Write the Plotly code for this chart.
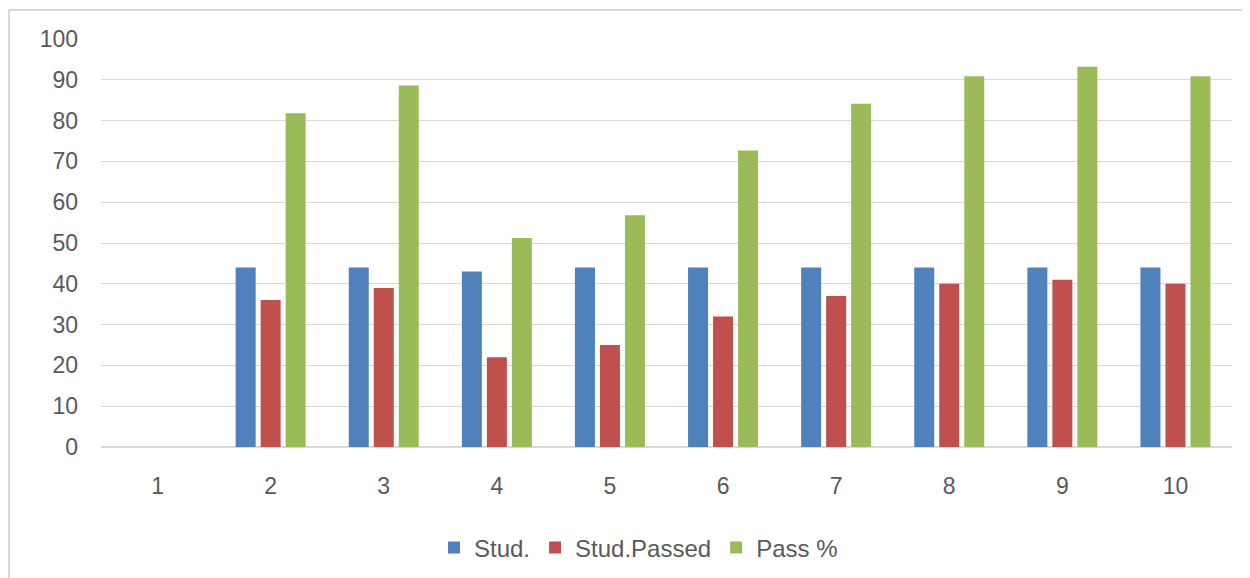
import plotly.graph_objects as go

categories = ["1", "2", "3", "4", "5", "6", "7", "8", "9", "10"]
stud = [None, 44, 44, 43, 44, 44, 44, 44, 44, 44]
stud_passed = [None, 36, 39, 22, 25, 32, 37, 40, 41, 40]
pass_pct = [None, 81.8, 88.6, 51.2, 56.8, 72.7, 84.1, 90.9, 93.2, 90.9]
y_ticks = [0, 10, 20, 30, 40, 50, 60, 70, 80, 90, 100]

OFF = 8  # page body margin
W, H = 1242, 570
L, R, T, B = 101 - OFF, 18, 39 - OFF, 131
pw = W - L - R
ph = H - T - B

def px_to_paper_x(px):
    return (px - OFF - L) / pw

def px_to_paper_y(py):
    return (H - B - (py - OFF)) / ph

fig = go.Figure()
fig.add_trace(go.Bar(x=categories, y=stud, name="Stud.", marker=dict(color="#4f81bd", line=dict(width=0))))
fig.add_trace(go.Bar(x=categories, y=stud_passed, name="Stud.Passed", marker=dict(color="#c0504d", line=dict(width=0))))
fig.add_trace(go.Bar(x=categories, y=pass_pct, name="Pass %", marker=dict(color="#9bbb59", line=dict(width=0))))

fig.update_layout(
    width=W, height=H,
    margin=dict(l=L, r=R, t=T, b=B, autoexpand=False),
    paper_bgcolor="white", plot_bgcolor="white",
    barmode="group", bargap=0.337, bargroupgap=0.2,
    font=dict(family="Liberation Sans, Arial, sans-serif", color="#595959", size=23),
    legend=dict(orientation="h", x=0.5 - 28 / 1131, xanchor="center", y=px_to_paper_y(548), yanchor="middle",
                font=dict(size=24, color="#595959"), itemwidth=30, tracegroupgap=0),
    showlegend=True,
    shapes=[dict(type="rect", xref="paper", yref="paper",
                 x0=px_to_paper_x(9), x1=px_to_paper_x(1262),
                 y0=px_to_paper_y(590), y1=px_to_paper_y(10),
                 line=dict(color="#d9d9d9", width=2), fillcolor="rgba(0,0,0,0)", layer="below")],
)
fig.update_xaxes(type="category", showgrid=False, showline=False, ticks="", zeroline=False, automargin=False,
                 tickfont=dict(size=23, color="#595959"), ticklabelstandoff=23)
fig.update_yaxes(range=[0, 100], tickvals=y_ticks, showgrid=True, gridcolor="#d9d9d9", gridwidth=1, automargin=False,
                 zeroline=True, zerolinecolor="#d9d9d9", zerolinewidth=2, showline=False, ticks="",
                 tickfont=dict(size=23, color="#595959"), ticklabelstandoff=22)

fig.write_html("out.html")
